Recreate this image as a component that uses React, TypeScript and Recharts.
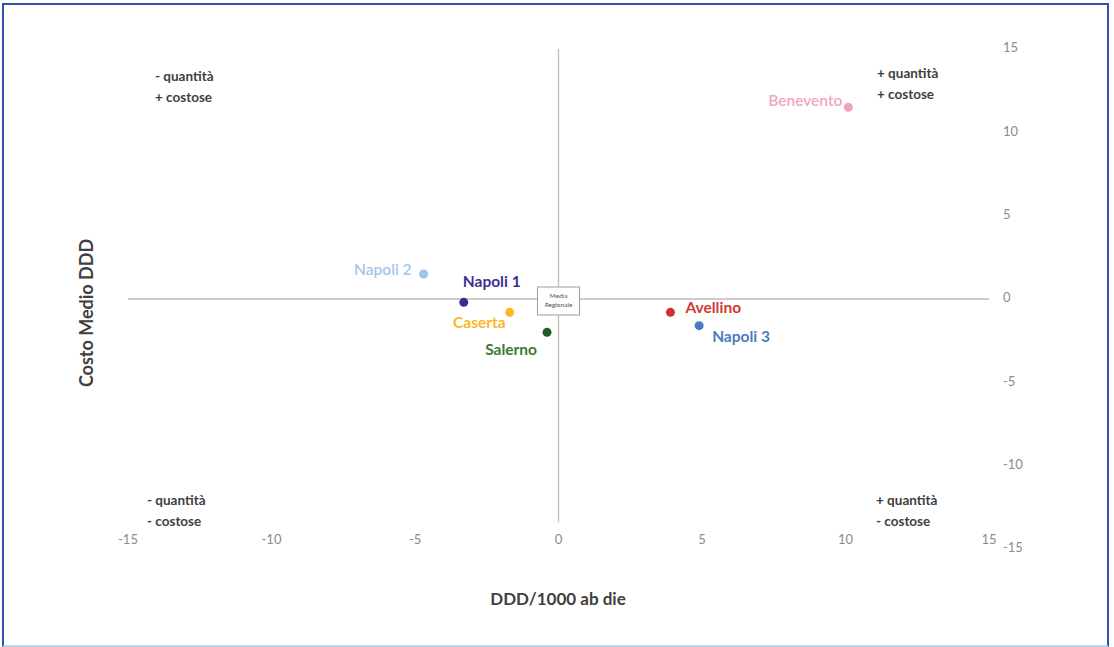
import React from "react";
import { ScatterChart, Scatter, XAxis, YAxis, ReferenceLine, ReferenceDot } from "recharts";

const districts = ["Benevento", "Napoli 2", "Napoli 1", "Caserta", "Salerno", "Avellino", "Napoli 3"];
const dddValues = [10.1, -4.7, -3.3, -1.7, -0.4, 3.9, 4.9];
const costValues = [11.5, 1.5, -0.2, -0.8, -2.0, -0.8, -1.6];
const pointColors = ["#f2a0c0", "#9dc3e6", "#3a2d8c", "#fdb827", "#1f5e22", "#d0312d", "#4a78c2"];
const labelColors = ["#f4a3c3", "#a4c6e8", "#3e3192", "#fdb52a", "#3a7a33", "#cf3a2e", "#4c7bc4"];
const boldLabels = [false, false, true, true, true, true, true];
const axisTicks = [-15, -10, -5, 0, 5, 10, 15];

// label placement relative to each point: [anchor, dx, dy]
const labelPlacement: Record<string, [string, number, number]> = {
  Benevento: ["end", -6, -5],
  "Napoli 2": ["end", -12, -3],
  "Napoli 1": ["start", -1, -19],
  Caserta: ["end", -4, 12],
  Salerno: ["end", -10, 19],
  Avellino: ["start", 15, -3],
  "Napoli 3": ["start", 13, 12],
};

const points = districts.map((name, i) => ({
  name,
  x: dddValues[i],
  y: costValues[i],
  color: pointColors[i],
  labelColor: labelColors[i],
  bold: boldLabels[i],
}));

const FONT = "Lato, 'Open Sans', sans-serif";

function PointShape(props: any) {
  const { cx, cy, payload } = props;
  const [anchor, dx, dy] = labelPlacement[payload.name];
  return (
    <g>
      <circle cx={cx} cy={cy} r={4.5} fill={payload.color} />
      <text
        x={cx + dx}
        y={cy + dy}
        textAnchor={anchor as any}
        dominantBaseline="middle"
        fontFamily={FONT}
        fontSize={15.5}
        fontWeight={payload.bold ? 700 : 600}
        fill={payload.labelColor}
      >
        {payload.name}
      </text>
    </g>
  );
}

function MediaBox(props: any) {
  const { cx, cy } = props;
  return (
    <g>
      <rect x={cx - 21} y={cy - 12} width={42} height={28} fill="#fff" stroke="#a89a9a" strokeWidth={1} />
      <text x={cx} y={cy - 3} textAnchor="middle" dominantBaseline="middle" fontFamily={FONT} fontSize={6.5} fill="#555">
        Media
      </text>
      <text x={cx} y={cy + 6} textAnchor="middle" dominantBaseline="middle" fontFamily={FONT} fontSize={6.5} fill="#555">
        Regionale
      </text>
    </g>
  );
}

function XTick(props: any) {
  const { x, y, payload } = props;
  return (
    <text x={x} y={y - 8} textAnchor="middle" dominantBaseline="middle" fontFamily={FONT} fontSize={13} fill="#8c8c8c">
      {payload.value}
    </text>
  );
}

function YTick(props: any) {
  const { x, y, payload } = props;
  return (
    <text x={x + 14} y={y} textAnchor="start" dominantBaseline="middle" fontFamily={FONT} fontSize={13} fill="#8c8c8c">
      {payload.value}
    </text>
  );
}

const quadrantStyle: React.CSSProperties = {
  position: "absolute",
  fontFamily: FONT,
  fontSize: 13.5,
  fontWeight: 700,
  color: "#404040",
  lineHeight: "21px",
  whiteSpace: "nowrap",
};

export default function App() {
  return (
    <div style={{ position: "absolute", left: 0, top: 0, width: 1114, height: 647, background: "#fff" }}>
      <div
        style={{
          position: "absolute",
          left: 2,
          top: 3,
          width: 1103,
          height: 640,
          borderTop: "2px solid #2f52b3",
          borderLeft: "2px solid #2f52b3",
          borderRight: "2px solid #2f52b3",
          borderBottom: "2px solid #bcd3ea",
        }}
      />
      <ScatterChart
        width={1114}
        height={647}
        margin={{ top: 49, right: 85, bottom: 68, left: 128 }}
        style={{ position: "absolute", left: 0, top: 0 }}
      >
        <XAxis
          type="number"
          dataKey="x"
          domain={[-15, 15]}
          ticks={axisTicks}
          axisLine={false}
          tickLine={false}
          tickSize={0}
          tickMargin={0}
          height={30}
          tick={<XTick />}
          interval={0}
        />
        <YAxis
          type="number"
          dataKey="y"
          orientation="right"
          domain={[-15, 15]}
          ticks={axisTicks}
          axisLine={false}
          tickLine={false}
          tickSize={0}
          tickMargin={0}
          width={40}
          tick={<YTick />}
          interval={0}
        />
        <ReferenceLine
          segment={[
            { x: 0, y: 15 },
            { x: 0, y: -13.4 },
          ]}
          stroke="#c4baba"
          strokeWidth={1.3}
        />
        <ReferenceLine y={0} stroke="#c4baba" strokeWidth={1.3} />
        <ReferenceDot x={0} y={0} r={0} shape={<MediaBox />} />
        <Scatter data={points} isAnimationActive={false} shape={<PointShape />} />
      </ScatterChart>

      <div style={{ ...quadrantStyle, left: 155, top: 66 }}>
        - quantità
        <br />+ costose
      </div>
      <div style={{ ...quadrantStyle, left: 877, top: 63 }}>
        + quantità
        <br />+ costose
      </div>
      <div style={{ ...quadrantStyle, left: 147, top: 490 }}>
        - quantità
        <br />- costose
      </div>
      <div style={{ ...quadrantStyle, left: 876, top: 490 }}>
        + quantità
        <br />- costose
      </div>

      <div
        style={{
          position: "absolute",
          left: 408,
          top: 588,
          width: 300,
          textAlign: "center",
          fontFamily: FONT,
          fontSize: 17,
          fontWeight: 700,
          color: "#404040",
        }}
      >
        DDD/1000 ab die
      </div>
      <div
        style={{
          position: "absolute",
          left: 86,
          top: 313,
          transform: "translate(-50%, -50%) rotate(-90deg)",
          fontFamily: FONT,
          fontSize: 18,
          fontWeight: 700,
          color: "#404040",
          whiteSpace: "nowrap",
        }}
      >
        Costo Medio DDD
      </div>
    </div>
  );
}
